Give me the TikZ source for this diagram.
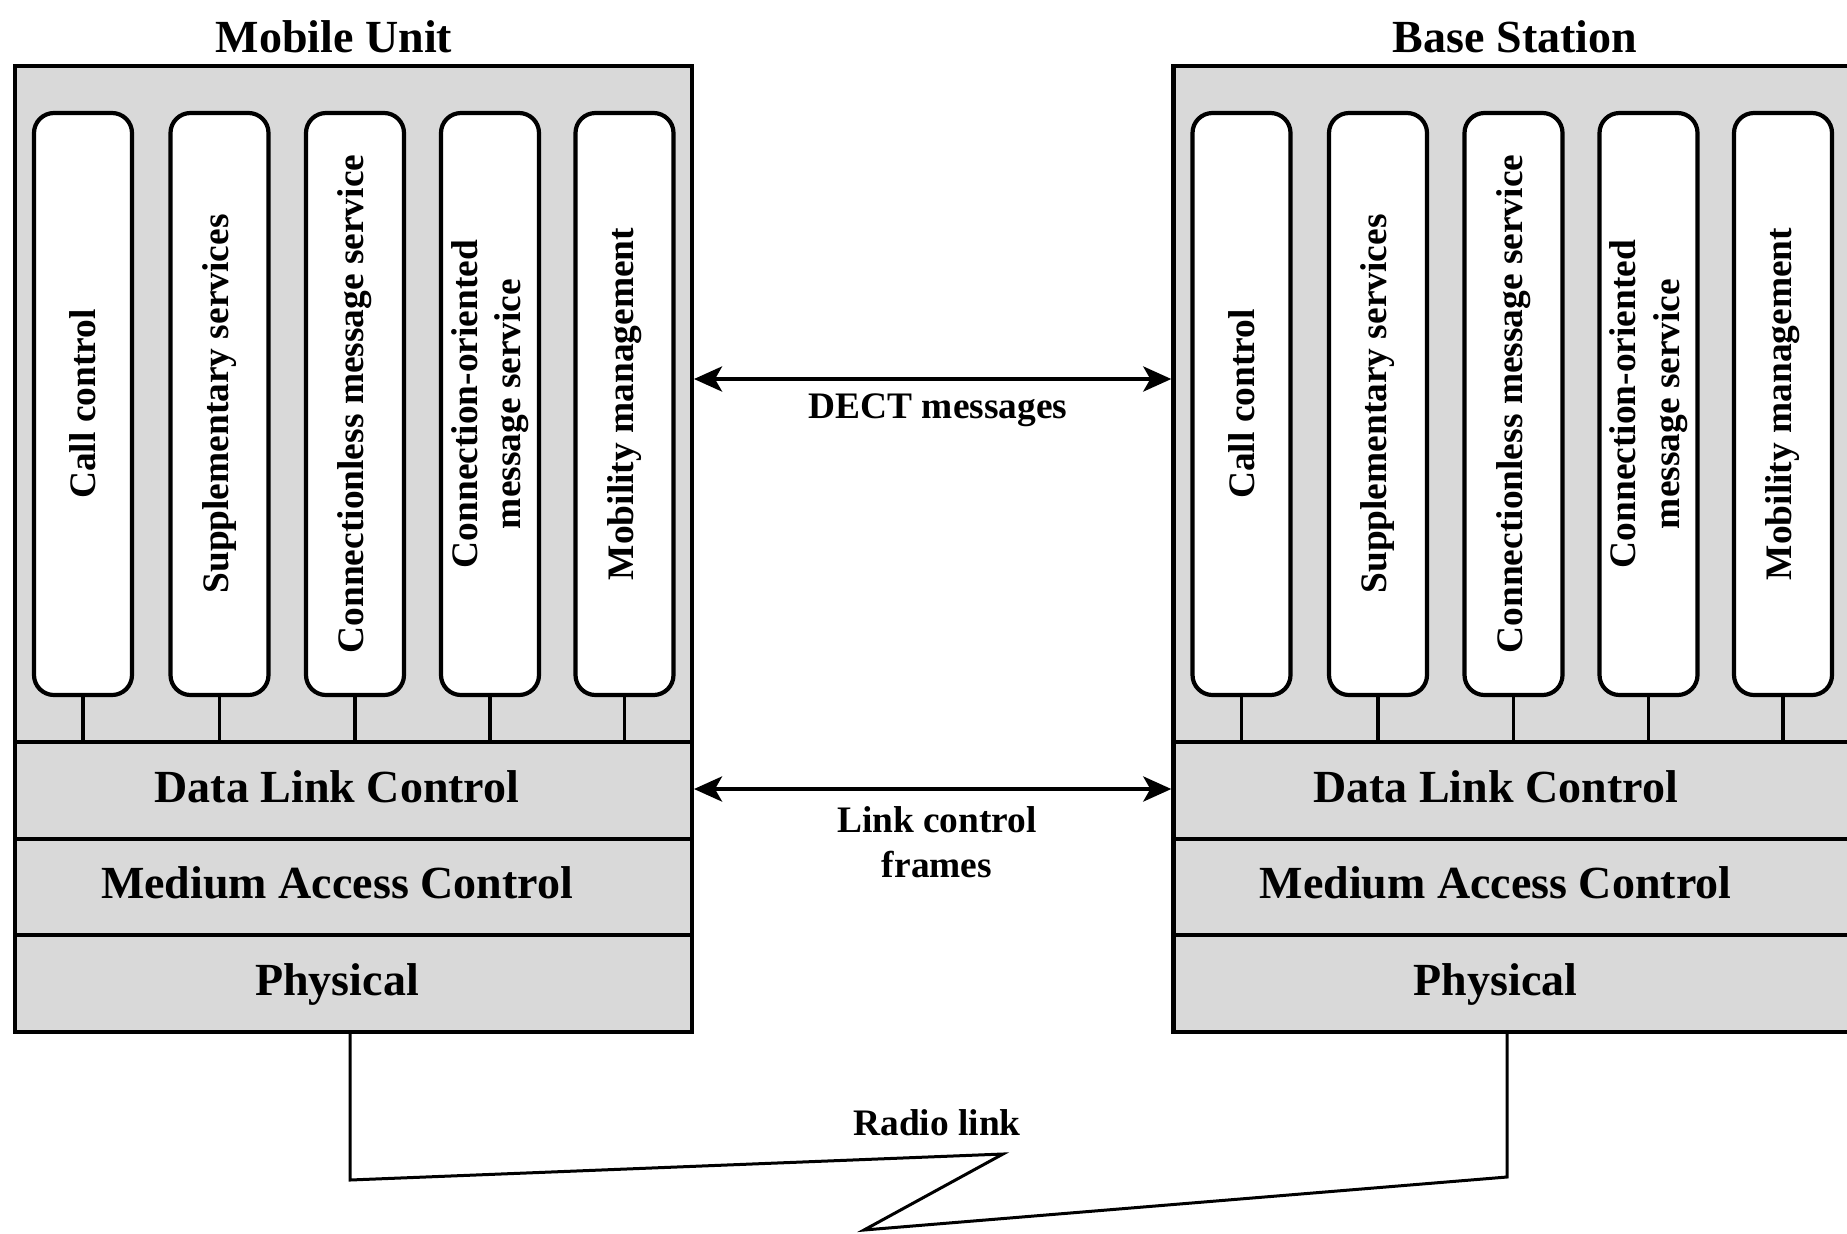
\documentclass[tikz,border=0pt]{standalone}
\usepackage{fontspec}
\setmainfont{Liberation Serif}
\usetikzlibrary{arrows.meta}
\begin{document}
\begin{tikzpicture}[x=0.5pt,y=-0.5pt,
  outerbox/.style={draw, line width=2.1pt, fill=gray!30, inner sep=0pt, minimum width=338.5pt, minimum height=483pt},
  layerbox/.style={draw, line width=2.1pt, fill=gray!30, inner sep=0pt, minimum width=338.5pt, minimum height=48.33pt},
  pill/.style={draw, line width=2.1pt, fill=white, rounded corners=10pt, rotate=90, minimum width=291pt, minimum height=49pt, inner sep=0pt, align=center, font=\bfseries\fontsize{18.7pt}{21.8pt}\selectfont},
  stem/.style={line width=1.8pt},
  title/.style={anchor=base, inner sep=0pt, font=\bfseries\fontsize{23pt}{27pt}\selectfont},
  layertext/.style={anchor=base, inner sep=0pt, font=\bfseries\fontsize{23pt}{27pt}\selectfont},
  lbl/.style={inner sep=0pt, align=center, font=\bfseries\fontsize{18.7pt}{22.5pt}\selectfont},
  dbl/.style={{Stealth[length=14pt,width=12.5pt,inset=3.5pt]}-{Stealth[length=14pt,width=12.5pt,inset=3.5pt]}, line width=2pt},
  radio/.style={line width=1.5pt, line join=miter}
]
\useasboundingbox (0,0) rectangle (1847,1233);
\clip (0,0) rectangle (1847,1233);

% outer boxes
\node[outerbox] (mu) at (353.4,549) {};
\node[outerbox] (bs) at (1511.9,549) {};

% layers
\node[layerbox] (dlcL) at (353.4,790.3) {};
\node[layerbox] (macL) at (353.4,887) {};
\node[layerbox] (phL)  at (353.4,983.7) {};
\node[layerbox] (dlcR) at (1511.9,790.3) {};
\node[layerbox] (macR) at (1511.9,887) {};
\node[layerbox] (phR)  at (1511.9,983.7) {};

% layer texts
\node[layertext] (tdlcL) at (337,802) {Data Link Control};
\node[layertext] (tmacL) at (337,898) {Medium Access Control};
\node[layertext] (tphL)  at (337,995) {Physical};
\node[layertext] (tdlcR) at (1495.5,802) {Data Link Control};
\node[layertext] (tmacR) at (1495.5,898) {Medium Access Control};
\node[layertext] (tphR)  at (1495.5,995) {Physical};

% titles
\node[title] (tmu) at (334,52) {Mobile Unit};
\node[title] (tbs) at (1515,52) {Base Station};

% pills, left
\node[pill] (pL1) at (83,404) {Call control};
\node[pill] (pL2) at (219.5,404) {Supplementary services};
\node[pill] (pL3) at (355,404) {Connectionless message service};
\node[pill] (pL4) at (490,404) {Connection-oriented\\message service};
\node[pill] (pL5) at (624.5,404) {Mobility management};
% pills, right
\node[pill] (pR1) at (1241.5,404) {Call control};
\node[pill] (pR2) at (1378,404) {Supplementary services};
\node[pill] (pR3) at (1513.5,404) {Connectionless message service};
\node[pill] (pR4) at (1648.5,404) {Connection-oriented\\message service};
\node[pill] (pR5) at (1783,404) {Mobility management};

% stems
\foreach \p in {pL1,pL2,pL3,pL4,pL5}{
  \draw[stem] (\p.west) -- (\p.west |- dlcL.north);
}
\foreach \p in {pR1,pR2,pR3,pR4,pR5}{
  \draw[stem] (\p.west) -- (\p.west |- dlcR.north);
}

% arrows
\coordinate (ya) at (0,379);
\coordinate (yb) at (0,789);
\draw[dbl] (mu.east |- ya) -- (bs.west |- ya);
\draw[dbl] (mu.east |- yb) -- (bs.west |- yb);
\node[lbl, anchor=base] (ldect) at (938,418.5) {DECT messages};
\node[lbl] (llink) at (937,842) {Link control\\frames};

% radio link
\coordinate (r1) at (350,1180);
\coordinate (r2) at (1003,1154);
\coordinate (r3) at (864,1230);
\coordinate (r4) at (1507,1177);
\draw[radio] (phL.south -| r1) -- (r1) -- (r2) -- (r3) -- (r4) -- (phR.south -| r4);
\node[lbl, anchor=base] (lradio) at (937,1135) {Radio link};
\end{tikzpicture}
\end{document}
